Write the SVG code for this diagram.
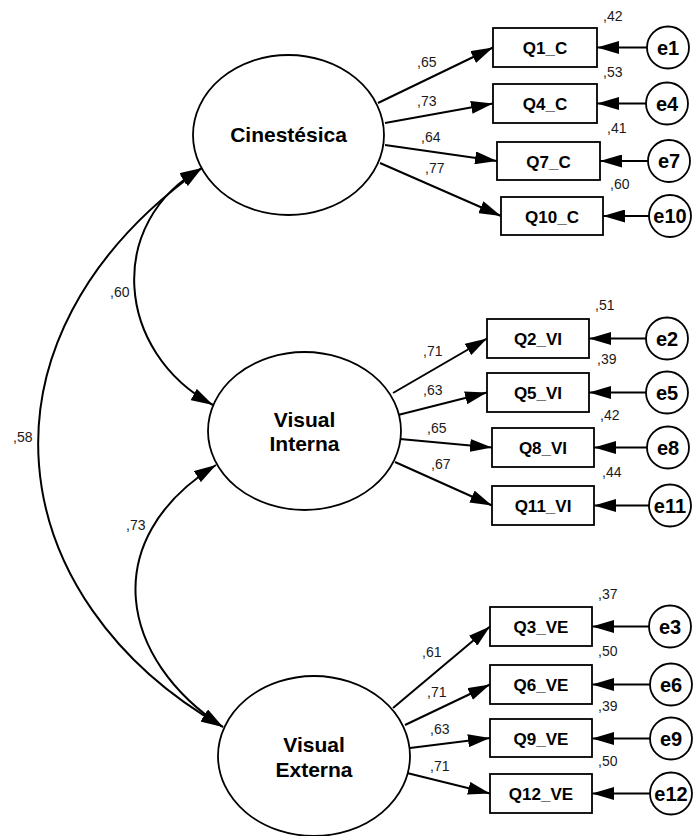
<svg xmlns="http://www.w3.org/2000/svg" width="693" height="836" viewBox="0 0 693 836">
<style>
.lat{fill:#fff;stroke:#000;stroke-width:1.8}
.obs{fill:#fff;stroke:#000;stroke-width:1.8}
.err{fill:#fff;stroke:#000;stroke-width:1.8}
.lt{font-family:"Liberation Sans",Arial,sans-serif;font-weight:bold;font-size:21px;fill:#000;text-anchor:middle}
.ot{font-family:"Liberation Sans",Arial,sans-serif;font-weight:bold;font-size:17px;fill:#000;text-anchor:middle}
.et{font-family:"Liberation Sans",Arial,sans-serif;font-weight:bold;font-size:20px;fill:#000;text-anchor:middle}
.cf{font-family:"Liberation Sans",Arial,sans-serif;font-size:14px;fill:#1a1a1a}
.ar{fill:none;stroke:#000;stroke-width:2;marker-end:url(#ah)}
.cv{fill:none;stroke:#000;stroke-width:2;marker-start:url(#ah);marker-end:url(#ah)}
</style>
<defs>
<marker id="ah" viewBox="0 0 22 13" markerUnits="userSpaceOnUse" markerWidth="22" markerHeight="13" refX="22" refY="6.5" orient="auto-start-reverse">
<path d="M0,0 L22,6.5 L0,13 z" fill="#000"/>
</marker>
</defs>

<g id="connectors">
<path class="cv" d="M202,168 C105,222 115,352 213,405"/>
<path class="cv" d="M202,168 C-40,340 2.3,601 223,727"/>
<path class="cv" d="M216,465 C96,540 120,660 223,727"/>
<line class="ar" x1="378" y1="103" x2="493" y2="47.5"/>
<line class="ar" x1="385" y1="123" x2="493" y2="103.5"/>
<line class="ar" x1="385" y1="145" x2="497" y2="161"/>
<line class="ar" x1="380" y1="163" x2="501" y2="216"/>
<line class="ar" x1="393" y1="393" x2="487" y2="338.5"/>
<line class="ar" x1="398" y1="415" x2="487" y2="392.5"/>
<line class="ar" x1="400" y1="439" x2="492" y2="447.5"/>
<line class="ar" x1="395" y1="462" x2="492" y2="505.5"/>
<line class="ar" x1="393" y1="708" x2="490" y2="626.5"/>
<line class="ar" x1="405" y1="725" x2="490" y2="684.5"/>
<line class="ar" x1="410" y1="748" x2="490" y2="738"/>
<line class="ar" x1="407" y1="773" x2="490" y2="793.5"/>
<line class="ar" x1="647" y1="47.5" x2="597" y2="47.5"/>
<line class="ar" x1="646" y1="103.5" x2="597" y2="103.5"/>
<line class="ar" x1="648" y1="161" x2="600" y2="161"/>
<line class="ar" x1="649" y1="216" x2="603" y2="216"/>
<line class="ar" x1="646" y1="338.5" x2="589" y2="338.5"/>
<line class="ar" x1="646" y1="392.5" x2="589" y2="392.5"/>
<line class="ar" x1="647" y1="447.5" x2="594" y2="447.5"/>
<line class="ar" x1="649" y1="505.5" x2="594" y2="505.5"/>
<line class="ar" x1="649" y1="626.5" x2="592" y2="626.5"/>
<line class="ar" x1="650" y1="684.5" x2="592" y2="684.5"/>
<line class="ar" x1="650" y1="738.5" x2="592" y2="738.5"/>
<line class="ar" x1="650" y1="793.5" x2="592" y2="793.5"/>
</g>

<g id="coefficients">
<text class="cf" x="110" y="297">,60</text>
<text class="cf" x="13" y="442">,58</text>
<text class="cf" x="126" y="530">,73</text>
<text class="cf" x="417" y="67">,65</text>
<text class="cf" x="417" y="106">,73</text>
<text class="cf" x="421" y="142">,64</text>
<text class="cf" x="425" y="173">,77</text>
<text class="cf" x="603" y="21">,42</text>
<text class="cf" x="603" y="77">,53</text>
<text class="cf" x="607" y="133">,41</text>
<text class="cf" x="610" y="189">,60</text>
<text class="cf" x="423" y="356">,71</text>
<text class="cf" x="423" y="395">,63</text>
<text class="cf" x="427" y="433">,65</text>
<text class="cf" x="431" y="469">,67</text>
<text class="cf" x="595" y="310">,51</text>
<text class="cf" x="597" y="364">,39</text>
<text class="cf" x="600" y="420">,42</text>
<text class="cf" x="602" y="477">,44</text>
<text class="cf" x="422" y="657">,61</text>
<text class="cf" x="427" y="697">,71</text>
<text class="cf" x="430" y="734">,63</text>
<text class="cf" x="430" y="771">,71</text>
<text class="cf" x="598" y="599">,37</text>
<text class="cf" x="598" y="656">,50</text>
<text class="cf" x="598" y="711">,39</text>
<text class="cf" x="598" y="766">,50</text>
</g>

<g id="Cinestesica"><ellipse class="lat" cx="288.5" cy="135" rx="95.5" ry="80"/><text class="lt" x="288.5" y="142">Cinestésica</text></g>
<g id="VisualInterna"><ellipse class="lat" cx="304.5" cy="431" rx="96.5" ry="79"/><text class="lt" x="304.5" y="427">Visual</text><text class="lt" x="304.5" y="451">Interna</text></g>
<g id="VisualExterna"><ellipse class="lat" cx="314" cy="756" rx="96" ry="80"/><text class="lt" x="314" y="752">Visual</text><text class="lt" x="314" y="777">Externa</text></g>

<g id="Q1_C"><rect class="obs" x="493" y="28" width="104" height="39"/><text class="ot" x="545" y="54">Q1_C</text></g>
<g id="Q4_C"><rect class="obs" x="493" y="84" width="104" height="39"/><text class="ot" x="545" y="110">Q4_C</text></g>
<g id="Q7_C"><rect class="obs" x="497" y="142" width="103" height="38"/><text class="ot" x="548.5" y="167.5">Q7_C</text></g>
<g id="Q10_C"><rect class="obs" x="501" y="197" width="102" height="38"/><text class="ot" x="552" y="222.5">Q10_C</text></g>
<g id="Q2_VI"><rect class="obs" x="487" y="319" width="102" height="39"/><text class="ot" x="538" y="345">Q2_VI</text></g>
<g id="Q5_VI"><rect class="obs" x="487" y="373" width="102" height="39"/><text class="ot" x="538" y="399">Q5_VI</text></g>
<g id="Q8_VI"><rect class="obs" x="492" y="428" width="102" height="39"/><text class="ot" x="543" y="454">Q8_VI</text></g>
<g id="Q11_VI"><rect class="obs" x="492" y="486" width="102" height="39"/><text class="ot" x="543" y="512">Q11_VI</text></g>
<g id="Q3_VE"><rect class="obs" x="490" y="607" width="102" height="39"/><text class="ot" x="541" y="633">Q3_VE</text></g>
<g id="Q6_VE"><rect class="obs" x="490" y="665" width="102" height="39"/><text class="ot" x="541" y="691">Q6_VE</text></g>
<g id="Q9_VE"><rect class="obs" x="490" y="719" width="102" height="38"/><text class="ot" x="541" y="744.5">Q9_VE</text></g>
<g id="Q12_VE"><rect class="obs" x="490" y="774" width="102" height="39"/><text class="ot" x="541" y="800">Q12_VE</text></g>

<g id="e1"><circle class="err" cx="668" cy="47.5" r="21"/><text class="et" x="668" y="54.5">e1</text></g>
<g id="e4"><circle class="err" cx="667" cy="103.5" r="21"/><text class="et" x="667" y="110.5">e4</text></g>
<g id="e7"><circle class="err" cx="669" cy="161" r="21"/><text class="et" x="669" y="168">e7</text></g>
<g id="e10"><circle class="err" cx="670" cy="216" r="21"/><text class="et" x="670" y="223">e10</text></g>
<g id="e2"><circle class="err" cx="667" cy="338.5" r="21"/><text class="et" x="667" y="345.5">e2</text></g>
<g id="e5"><circle class="err" cx="667" cy="392.5" r="21"/><text class="et" x="667" y="399.5">e5</text></g>
<g id="e8"><circle class="err" cx="668" cy="447.5" r="21"/><text class="et" x="668" y="454.5">e8</text></g>
<g id="e11"><circle class="err" cx="670" cy="505.5" r="21"/><text class="et" x="670" y="512.5">e11</text></g>
<g id="e3"><circle class="err" cx="670" cy="626.5" r="21"/><text class="et" x="670" y="633.5">e3</text></g>
<g id="e6"><circle class="err" cx="671" cy="684.5" r="21"/><text class="et" x="671" y="691.5">e6</text></g>
<g id="e9"><circle class="err" cx="671" cy="738.5" r="21"/><text class="et" x="671" y="745.5">e9</text></g>
<g id="e12"><circle class="err" cx="671" cy="793.5" r="21"/><text class="et" x="671" y="800.5">e12</text></g>
</svg>
